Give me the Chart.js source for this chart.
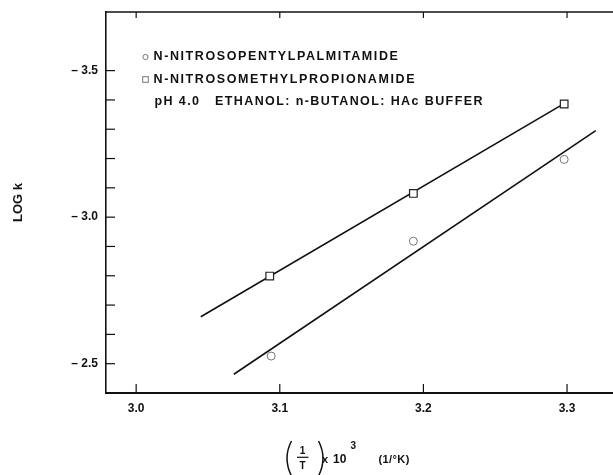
<!DOCTYPE html>
<html><head><meta charset="utf-8">
<script src="https://cdn.jsdelivr.net/npm/chart.js@4/dist/chart.umd.min.js"></script>
<style>html,body{margin:0;padding:0;background:#fff}#wrap{width:613px;height:475px}</style>
</head><body><div id="wrap"><canvas id="c" width="613" height="475"></canvas></div>
<script>
// ---- data ----
const seriesLabels = ['N-NITROSOPENTYLPALMITAMIDE', 'N-NITROSOMETHYLPROPIONAMIDE'];
const conditionNote = 'pH 4.0   ETHANOL: n-BUTANOL: HAc BUFFER';
const circleX = [3.094, 3.193, 3.298];
const circleY = [-2.526, -2.918, -3.197];
const squareX = [3.093, 3.193, 3.298];
const squareY = [-2.799, -3.081, -3.386];
const circleFitX = [3.068, 3.320];
const circleFitY = [-2.464, -3.295];
const squareFitX = [3.045, 3.297];
const squareFitY = [-2.660, -3.385];
const xTickValues = [3.0, 3.1, 3.2, 3.3];
const xTickLabels = ['3.0', '3.1', '3.2', '3.3'];
const yTickValues = [-3.5, -3.0, -2.5];
const yTickLabels = ['– 3.5', '– 3.0', '– 2.5'];
const yMinorTickValues = [-3.4, -3.3, -3.2, -3.1, -2.9, -2.8, -2.7, -2.6];
const yAxisTitle = 'LOG k';
const xTitleNum = '1', xTitleDen = 'T', xTitleMult = 'x', xTitleBase = '10', xTitleExp = '3', xTitleUnit = '(1/°K)';

const pts = (xs, ys) => xs.map((x, i) => ({x: x, y: ys[i]}));
const FONT = "'Liberation Sans', Arial, Helvetica, sans-serif";
Chart.defaults.font.family = FONT;
Chart.defaults.color = '#111';

const decor = {
  id: 'decor',
  afterDraw(chart) {
    const ctx = chart.ctx, ca = chart.chartArea;
    const xs = chart.scales.x, ys = chart.scales.y;
    ctx.save();
    ctx.strokeStyle = '#111';
    // top border
    ctx.lineWidth = 1.4;
    ctx.beginPath(); ctx.moveTo(ca.left, ca.top); ctx.lineTo(ca.right, ca.top); ctx.stroke();
    // x ticks (bottom up, top down)
    ctx.lineWidth = 1.2;
    xTickValues.forEach(v => {
      const px = xs.getPixelForValue(v);
      ctx.beginPath(); ctx.moveTo(px, ca.bottom); ctx.lineTo(px, ca.bottom - 9); ctx.stroke();
      ctx.beginPath(); ctx.moveTo(px, ca.top); ctx.lineTo(px, ca.top + 6); ctx.stroke();
    });
    // y ticks inward
    yTickValues.concat(yMinorTickValues).forEach(v => {
      const py = ys.getPixelForValue(v);
      ctx.beginPath(); ctx.moveTo(ca.left, py); ctx.lineTo(ca.left + 9, py); ctx.stroke();
    });
    // legend
    const lx = ca.left + 39.5, tx = ca.left + 47.5;
    const ly = [ca.top + 45, ca.top + 67.5, ca.top + 90];
    ctx.lineWidth = 1;
    ctx.strokeStyle = '#777';
    ctx.beginPath(); ctx.arc(lx, ly[0], 2.6, 0, Math.PI * 2); ctx.stroke();
    ctx.strokeRect(lx - 2.8, ly[1] - 2.8, 5.6, 5.6);
    ctx.fillStyle = '#111';
    ctx.font = 'bold 12.5px ' + FONT;
    ctx.textBaseline = 'middle';
    ctx.textAlign = 'left';
    ctx.letterSpacing = '1.6px';
    ctx.fillText(chart.data.datasets[0].label, tx, ly[0]);
    ctx.fillText(chart.data.datasets[1].label, tx, ly[1]);
    ctx.letterSpacing = '1.4px';
    ctx.fillText(conditionNote, tx + 1, ly[2]);
    ctx.letterSpacing = '0px';
    // x axis title
    const bx = (ca.left + ca.right) / 2 - 74, by = chart.height - 17;
    ctx.strokeStyle = '#111';
    ctx.lineWidth = 1.5;
    ctx.beginPath(); ctx.moveTo(bx + 6, by - 17); ctx.quadraticCurveTo(bx - 3, by, bx + 6, by + 18); ctx.stroke();
    ctx.beginPath(); ctx.moveTo(bx + 33, by - 17); ctx.quadraticCurveTo(bx + 42, by, bx + 33, by + 18); ctx.stroke();
    ctx.lineWidth = 1.2;
    ctx.beginPath(); ctx.moveTo(bx + 11.5, by - 0.7); ctx.lineTo(bx + 23, by - 0.7); ctx.stroke();
    ctx.font = 'bold 10px ' + FONT;
    ctx.textAlign = 'center';
    ctx.fillText(xTitleNum, bx + 17, by - 7);
    ctx.fillText(xTitleDen, bx + 17, by + 8);
    ctx.textAlign = 'left';
    ctx.font = 'bold 11px ' + FONT;
    ctx.fillText(xTitleMult, bx + 36.5, by + 2);
    ctx.font = 'bold 12px ' + FONT;
    ctx.fillText(xTitleBase, bx + 47.5, by + 2);
    ctx.font = 'bold 10px ' + FONT;
    ctx.fillText(xTitleExp, bx + 65, by - 12);
    ctx.font = 'bold 11px ' + FONT;
    ctx.letterSpacing = '0.4px';
    ctx.fillText(xTitleUnit, bx + 93, by + 2);
    ctx.restore();
  }
};

new Chart(document.getElementById('c'), {
  type: 'scatter',
  data: {
    datasets: [
      { label: seriesLabels[0], data: pts(circleX, circleY), pointStyle: 'circle', pointRadius: 4,
        pointBorderColor: '#777', pointBackgroundColor: '#fff', pointBorderWidth: 1, order: 0 },
      { label: seriesLabels[1], data: pts(squareX, squareY), pointStyle: 'rect', pointRadius: 5.4,
        pointBorderColor: '#222', pointBackgroundColor: '#fff', pointBorderWidth: 1.2, order: 0 },
      { label: 'fit1', data: pts(circleFitX, circleFitY), showLine: true, pointRadius: 0,
        borderColor: '#111', borderWidth: 1.6, order: 1 },
      { label: 'fit2', data: pts(squareFitX, squareFitY), showLine: true, pointRadius: 0,
        borderColor: '#111', borderWidth: 1.6, order: 1 }
    ]
  },
  options: {
    responsive: false,
    animation: false,
    devicePixelRatio: 1,
    layout: { autoPadding: false, padding: { top: 12, right: 0, left: 0, bottom: 0 } },
    plugins: { legend: { display: false }, tooltip: { enabled: false } },
    scales: {
      x: {
        type: 'linear', min: 2.979, max: 3.332,
        afterBuildTicks: s => { s.ticks = xTickValues.map(v => ({value: v})); },
        afterFit: s => { s.height = 82; s.paddingLeft = 0; s.paddingRight = 0; },
        grid: { display: false, drawTicks: false },
        border: { display: true, color: '#111', width: 2 },
        ticks: { padding: 8, font: { size: 12, weight: 'bold' }, color: '#111',
                 maxRotation: 0, callback: (v, i) => xTickLabels[i] }
      },
      y: {
        type: 'linear', min: -3.7, max: -2.4, reverse: true,
        afterBuildTicks: s => { s.ticks = yTickValues.map(v => ({value: v})); },
        afterFit: s => { s.width = 106; s.paddingTop = 0; s.paddingBottom = 0; },
        grid: { display: false, drawTicks: false },
        border: { display: true, color: '#111', width: 1.6 },
        ticks: { padding: 8, font: { size: 12, weight: 'bold' }, color: '#111',
                 callback: (v, i) => yTickLabels[i] },
        title: { display: true, text: yAxisTitle, font: { size: 13, weight: 'bold' },
                 color: '#111', padding: { top: 11, bottom: 0 } }
      }
    }
  },
  plugins: [decor]
});
</script>
</body></html>
